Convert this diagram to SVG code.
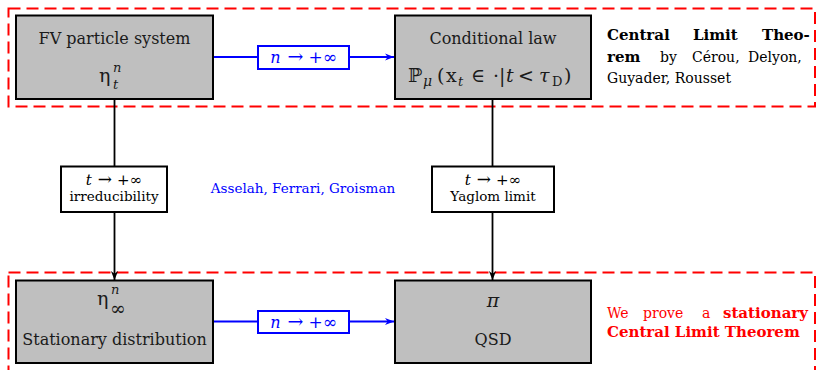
<svg xmlns="http://www.w3.org/2000/svg" width="817" height="370" viewBox="0 0 817 370">
<style>
.node{fill:#bfbfbf;stroke:#000;stroke-width:2}
.frame{fill:none;stroke:#ff0000;stroke-width:2;stroke-dasharray:12 6}
.t{font-family:"DejaVu Serif","Liberation Serif",serif;font-size:16px;fill:#1a1a1a;text-anchor:middle}
.m{font-family:"DejaVu Serif","Liberation Serif",serif;font-size:19px;fill:#1a1a1a}
.ms{font-family:"DejaVu Serif","Liberation Serif",serif;font-size:13px;fill:#1a1a1a;font-style:italic}
.lbl{fill:#fff;stroke:#000;stroke-width:2}
.blbl{fill:#fff;stroke:#0000ff;stroke-width:2}
.bl{font-family:"DejaVu Serif","Liberation Serif",serif;font-size:16px;fill:#0000ff;text-anchor:middle}
.sm{font-family:"DejaVu Serif","Liberation Serif",serif;font-size:13.5px;fill:#000;text-anchor:middle}
.sl{font-family:"DejaVu Serif","Liberation Serif",serif;font-size:15px;fill:#000;text-anchor:middle}
.side{font-family:"DejaVu Serif","Liberation Serif",serif;font-size:14px;fill:#000}
.sideb{font-family:"DejaVu Serif","Liberation Serif",serif;font-size:15px;fill:#000;font-weight:bold}
.red{font-family:"DejaVu Serif","Liberation Serif",serif;font-size:14px;fill:#ff0000}
.redb{font-family:"DejaVu Serif","Liberation Serif",serif;font-size:15px;fill:#ff0000;font-weight:bold}
.bk{stroke:#000;stroke-width:1.8;fill:none}
.bu{stroke:#0000ff;stroke-width:2;fill:none}
</style>
<defs>
<marker id="ab" viewBox="0 0 10 10" refX="10" refY="5" markerWidth="9" markerHeight="9" markerUnits="userSpaceOnUse" orient="auto"><path d="M0,1 L10,5 L0,9 L3,5 Z" fill="#0000ff"/></marker>
<marker id="ak" viewBox="0 0 10 10" refX="10" refY="5" markerWidth="9" markerHeight="9" markerUnits="userSpaceOnUse" orient="auto"><path d="M0,1 L10,5 L0,9 L3,5 Z" fill="#000"/></marker>
</defs>
<rect class="frame" x="8.5" y="8.5" width="806.5" height="98"/>
<rect class="frame" x="8.5" y="272.5" width="806.5" height="110"/>
<g id="connectors">
<line class="bu" x1="213" y1="57" x2="394" y2="57" marker-end="url(#ab)"/>
<line class="bu" x1="213" y1="321.5" x2="394" y2="321.5" marker-end="url(#ab)"/>
<line class="bk" x1="114.5" y1="99" x2="114.5" y2="280" marker-end="url(#ak)"/>
<line class="bk" x1="492.5" y1="99" x2="492.5" y2="280" marker-end="url(#ak)"/>
<g id="lbl-n-top"><rect class="blbl" x="258" y="46" width="91" height="23"/><text class="bl" x="303.5" y="62.5"><tspan font-style="italic">n</tspan><tspan dx="7" font-size="19">→</tspan><tspan dx="5" font-size="17">+∞</tspan></text></g>
<g id="lbl-n-bot"><rect class="blbl" x="258" y="311" width="91" height="22"/><text class="bl" x="303.5" y="327.5"><tspan font-style="italic">n</tspan><tspan dx="7" font-size="19">→</tspan><tspan dx="5" font-size="17">+∞</tspan></text></g>
<g id="lbl-irr"><rect class="lbl" x="61" y="166.5" width="106" height="45.5"/><text class="sl" x="114" y="185"><tspan font-style="italic">t</tspan><tspan dx="6" font-size="17">→</tspan><tspan dx="5">+∞</tspan></text><text class="sm" x="114" y="201">irreducibility</text></g>
<g id="lbl-yag"><rect class="lbl" x="432" y="166.5" width="122" height="45.5"/><text class="sl" x="493" y="185"><tspan font-style="italic">t</tspan><tspan dx="6" font-size="17">→</tspan><tspan dx="5">+∞</tspan></text><text class="sm" x="493" y="201">Yaglom limit</text></g>
</g>
<g id="fv"><rect class="node" x="16" y="15.5" width="197" height="83.5"/><text class="t" x="114.5" y="44">FV particle system</text><text class="m" x="99" y="82" font-size="21">η</text><text class="ms" x="113" y="72">n</text><text class="ms" x="113" y="89">t</text></g>
<g id="cond"><rect class="node" x="395" y="15.5" width="196" height="83.5"/><text class="t" x="493" y="44">Conditional law</text><text class="m" x="408" y="82">ℙ<tspan x="423" y="86" font-size="14" font-style="italic">μ</tspan><tspan x="437" y="82">(</tspan><tspan x="446">x</tspan><tspan x="458" y="86" font-size="13" font-style="italic">t</tspan><tspan x="471" y="82">∈</tspan><tspan x="493">·|</tspan><tspan x="506" font-style="italic">t</tspan><tspan x="518">&lt;</tspan><tspan x="539" font-style="italic">τ</tspan><tspan x="552" y="86" font-size="13">D</tspan><tspan x="564" y="82">)</tspan></text></g>
<g id="stat"><rect class="node" x="16" y="280.5" width="197" height="82.5"/><text class="m" x="97" y="305" font-size="21">η</text><text class="ms" x="111" y="294">n</text><text class="m" x="110" y="315" font-size="14">∞</text><text class="t" x="114.5" y="345">Stationary distribution</text></g>
<g id="qsd"><rect class="node" x="395" y="280.5" width="196" height="82.5"/><text class="m" x="493" y="307" font-style="italic" text-anchor="middle">π</text><text class="t" x="493" y="345">QSD</text></g>
<g id="clt-note"><text class="sideb" x="607" y="40">Central<tspan x="693">Limit</tspan><tspan x="762">Theo-</tspan></text><text class="side" x="607" y="62"><tspan class="sideb">rem</tspan><tspan x="660">by</tspan><tspan x="692">Cérou,</tspan><tspan x="748">Delyon,</tspan></text><text class="side" x="607" y="83">Guyader, Rousset</text></g>
<g id="agg"><text x="303" y="193" font-family="DejaVu Serif,Liberation Serif,serif" font-size="13.5" fill="#0000ff" text-anchor="middle">Asselah, Ferrari, Groisman</text></g>
<g id="stat-note"><text class="red" x="607" y="318">We<tspan x="643">prove</tspan><tspan x="702">a</tspan><tspan x="723" class="redb">stationary</tspan></text><text class="redb" x="607" y="337">Central Limit Theorem</text></g>
</svg>
